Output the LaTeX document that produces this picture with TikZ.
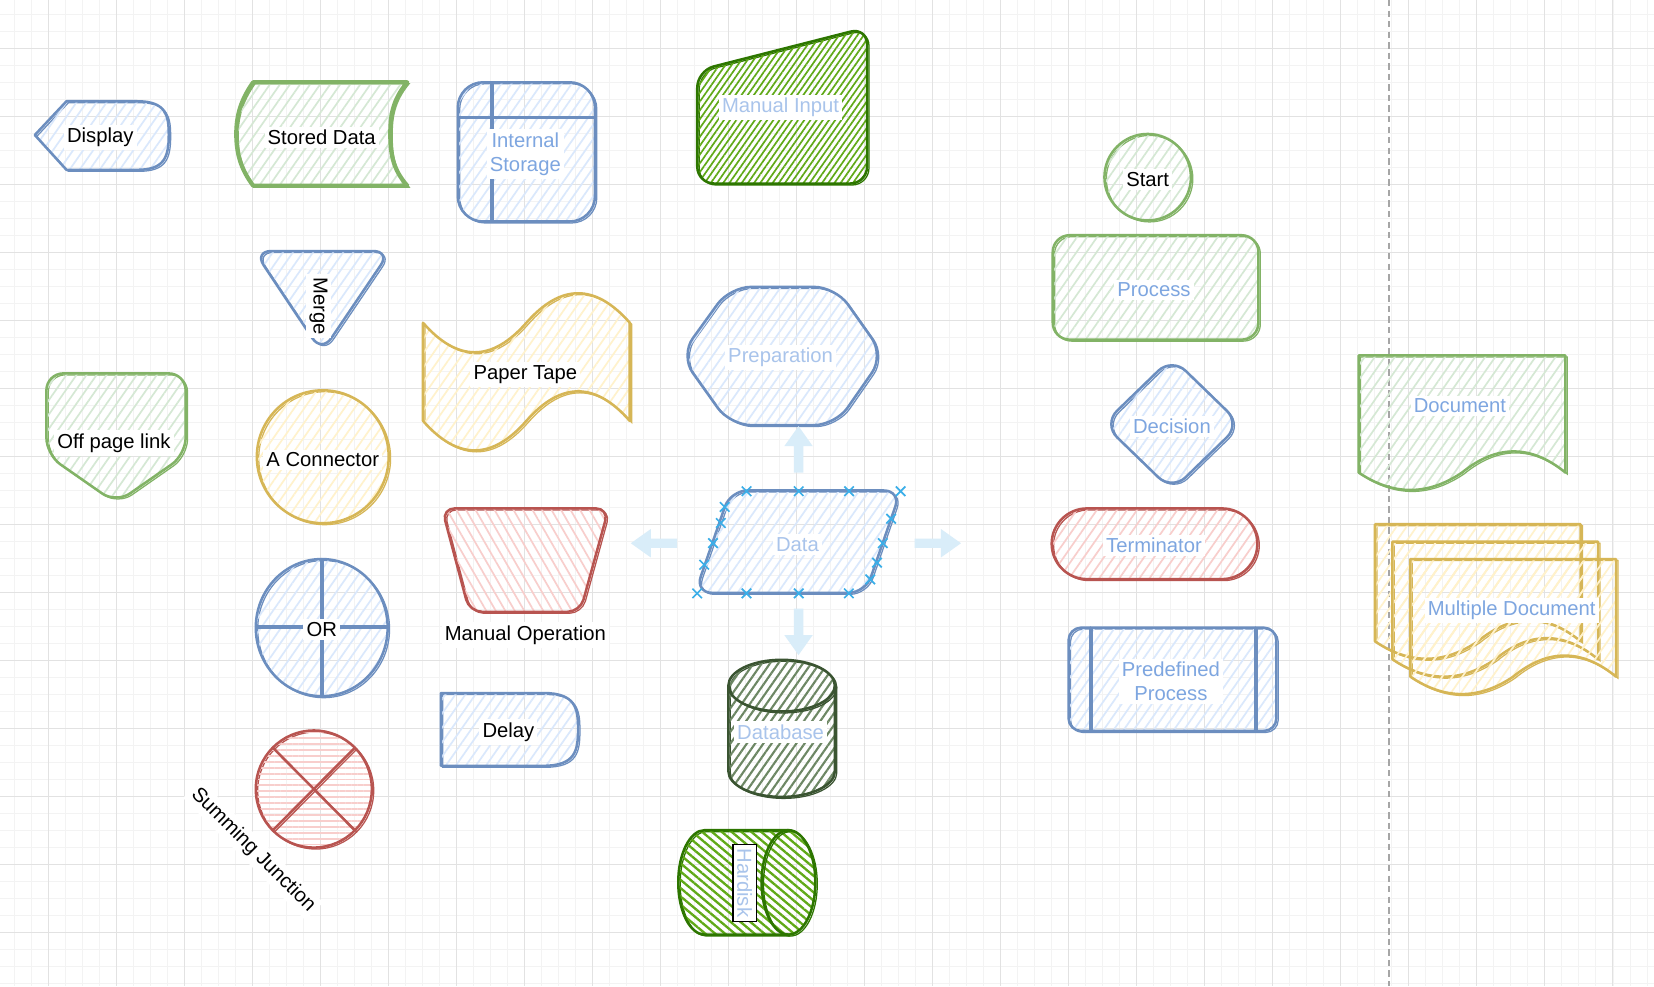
\documentclass[tikz,border=0pt]{standalone}
\usepackage{fontspec}
\setmainfont{Liberation Sans}
\usetikzlibrary{patterns.meta}

\definecolor{gridminor}{HTML}{F3F3F3}
\definecolor{gridmajor}{HTML}{E2E2E2}
\definecolor{lineblue}{HTML}{6C8EBF}
\definecolor{fillblue}{HTML}{DAE8FC}
\definecolor{linegreen}{HTML}{82B366}
\definecolor{fillgreen}{HTML}{D5E8D4}
\definecolor{lineyellow}{HTML}{D6B656}
\definecolor{fillyellow}{HTML}{FFF2CC}
\definecolor{linered}{HTML}{B85450}
\definecolor{fillred}{HTML}{F8CECC}
\definecolor{linedark}{HTML}{2D7600}
\definecolor{filldark}{HTML}{60A917}
\definecolor{linedb}{HTML}{3A5431}
\definecolor{filldb}{HTML}{6D8764}
\definecolor{textblue}{HTML}{7EA6E0}
\definecolor{textpale}{HTML}{A9C4EB}
\definecolor{hoverblue}{HTML}{D9EDF9}
\definecolor{markblue}{HTML}{3AAEE8}
\definecolor{dashgray}{HTML}{A6A6A6}

\tikzset{
   minorgrid/.style={draw=gridminor, line width=0.4pt},
   majorgrid/.style={draw=gridmajor, line width=0.5pt},
   outline/.style={draw=#1, line width=1.2pt, line join=round, line cap=round,
      preaction={draw=#1, line width=0.6pt, transform canvas={shift={(0.9pt,-0.7pt)}}}},
   hatch/.style={pattern={Lines[angle=#1, distance=3.9pt, line width=0.8pt]}},
   hatch/.default=55,
   blueshape/.style={outline=lineblue, hatch, pattern color=fillblue},
   greenshape/.style={outline=linegreen, hatch, pattern color=fillgreen},
   yellowshape/.style={outline=lineyellow, hatch, pattern color=fillyellow},
   redshape/.style={outline=linered, hatch, pattern color=fillred},
   lbl/.style={fill=white, inner sep=1.5pt, align=center, yshift=-1pt,
      font=\fontsize{9.6}{11.5}\selectfont},
   bluelbl/.style={lbl, text=textblue},
   palelbl/.style={lbl, text=textpale},
   marker/.style={draw=markblue, line width=0.8pt},
   dashline/.style={draw=dashgray, line width=0.9pt, dash pattern=on 3pt off 2pt}
}

\begin{document}
\begin{tikzpicture}[x=0.5pt,y=-0.5pt]
            \useasboundingbox (0,0) rectangle (1568,935);
            \fill [white] (0,0) rectangle (1568,935);

            % grid
            \foreach \k in {0,...,96}
               \draw [minorgrid] ({13.76+16.12*\k},0) -- ++(0,935);
            \foreach \k in {0,...,57}
               \draw [minorgrid] (0,{13.76+16.12*\k}) -- ++(1568,0);
            \foreach \k in {0,...,23}
               \draw [majorgrid] ({46+64.47*\k},0) -- ++(0,935);
            \foreach \k in {0,...,13}
               \draw [majorgrid] (0,{46+64.47*\k}) -- ++(1568,0);

            \draw [dashline] (1317,0) -- (1317,935);

            % first column
            \draw [blueshape]
               (33,128) -- (63,96) -- (130,96)
               .. controls (158,96) and (160,110) .. (160,128)
               .. controls (160,150) and (155,161) .. (130,161)
               -- (63,161) -- cycle;
            \node [lbl] (display) at (95,128) {Display};

            \draw [greenshape, rounded corners=8]
               (44,354) -- (176,354) -- (176,431) -- (110,477) -- (44,431) -- cycle;
            \node [lbl] (offpage) at (108,418) {Off page link};

            % second column
            \draw [greenshape, line width=2pt]
               (240,78) -- (386,78)
               .. controls (372,95) and (370,110) .. (370,127)
               .. controls (370,145) and (372,160) .. (386,176)
               -- (240,176)
               .. controls (228,160) and (224,145) .. (224,127)
               .. controls (224,110) and (228,95) .. (240,78) -- cycle;
            \node [lbl] (storeddata) at (305,128) {Stored Data};

            \draw [blueshape, rounded corners=8]
               (241,238) -- (370,238) -- (305,334) -- cycle;
            \node [lbl, rotate=-90] (merge) at (302,288) {Merge};

            \draw [yellowshape] (306,433) circle [x radius=62.5, y radius=63];
            \node [lbl] (connector) at (306,434) {A Connector};

            \draw [blueshape] (305,595) circle [x radius=62.5, y radius=65];
            \draw [outline=lineblue] (243,594) -- (368,594);
            \draw [outline=lineblue] (305,530) -- (305,660);
            \node [lbl] (orlabel) at (305,595) {OR};

            \draw [outline=linered, pattern={Lines[angle=0, distance=2.8pt, line width=0.9pt]},
               pattern color=fillred] (297.5,748) circle [x radius=55, y radius=55.5];
            \draw [outline=linered] (258.6,708.8) -- (336.4,787.2);
            \draw [outline=linered] (336.4,708.8) -- (258.6,787.2);
            \node [lbl, rotate=-45] (summing) at (240,804) {Summing Junction};

            % third column
            \draw [blueshape, rounded corners=12] (434,78) rectangle (564,210);
            \draw [outline=lineblue] (434,111) -- (564,111);
            \draw [outline=lineblue] (466,78) -- (466,210);
            \node [bluelbl] (internal) at (498,144) {Internal\\Storage};

            \draw [yellowshape]
               (401,306) .. controls (433.7,343.3) and (466.3,343.3) .. (499,306)
               .. controls (531.7,268.7) and (564.3,268.7) .. (597,306)
               -- (597,399)
               .. controls (564.3,361.7) and (531.7,361.7) .. (499,399)
               .. controls (466.3,436.3) and (433.7,436.3) .. (401,399) -- cycle;
            \node [lbl] (papertape) at (498,353) {Paper Tape};

            \draw [redshape, hatch=-60, rounded corners=6]
               (419,482) -- (577,482) -- (550,580) -- (445,580) -- cycle;
            \node [lbl] (manualop) at (498,600) {Manual Operation};

            \draw [blueshape]
               (418,657) -- (515,657)
               .. controls (546,657) and (548,672) .. (548,691)
               .. controls (548,711) and (546,726) .. (515,726)
               -- (418,726) -- cycle;
            \node [lbl] (delay) at (482,692) {Delay};

            % fourth column
            \draw [outline=linedark, pattern={Lines[angle=55, distance=2.4pt, line width=0.8pt]},
               pattern color=filldark, rounded corners=8]
               (661,174) -- (661,67) -- (822,26) -- (822,174) -- cycle;
            \node [palelbl] (manualinput) at (740,100) {Manual Input};

            \draw [blueshape, rounded corners=10]
               (692,272) -- (792,272) -- (838,337) -- (792,403)
               -- (692,403) -- (645,337) -- cycle;
            \node [palelbl] (preparation) at (740,337) {Preparation};

            \foreach \ang/\ax/\ay in {90/757/426, 180/620/515, 0/889/515, -90/757/599}
               \fill [hoverblue, shift={(\ax,\ay)}, rotate=\ang]
                  (-22,-4.5) -- (3,-4.5) -- (3,-13.5) -- (22,0)
                  -- (3,13.5) -- (3,4.5) -- (-22,4.5) -- cycle;

            \draw [blueshape, rounded corners=8]
               (692.5,465) -- (854,465) -- (820.5,562) -- (659,562) -- cycle;
            \node [palelbl] (data) at (756,514) {Data};
            \foreach \mx/\my in {707.7/465.7, 757.2/465.7, 804.9/465.7, 853.8/465.7,
                  660.9/562.5, 707.7/562.5, 757.2/562.5, 804.7/562.5,
                  687/480.6, 683.3/495.8, 675.9/514.9, 667.6/535.4,
                  844.8/491.8, 836.9/514.9, 831.4/533.4, 825/549.3}
               \draw [marker] (\mx,\my) ++(-4.5,-4.5) -- ++(9,9) ++(0,-9) -- ++(-9,9);

            \draw [outline=linedb, pattern={Lines[angle=55, distance=3.2pt, line width=1pt]},
               pattern color=filldb]
               (690.5,650) -- (690.5,731)
               arc [start angle=180, end angle=0, x radius=50.5, y radius=24.5]
               -- (791.5,650)
               arc [start angle=0, end angle=-180, x radius=50.5, y radius=24.5] -- cycle;
            \draw [outline=linedb]
               (690.5,650) arc [start angle=180, end angle=0, x radius=50.5, y radius=24.5];
            \node [palelbl] (database) at (740,692) {Database};

            \draw [outline=linedark, pattern={Lines[angle=-40, distance=3pt, line width=1.1pt]},
               pattern color=filldark]
               (668,787) -- (747.5,787)
               arc [start angle=-90, end angle=90, x radius=25.5, y radius=49.5]
               -- (668,886)
               arc [start angle=90, end angle=270, x radius=25, y radius=49.5] -- cycle;
            \draw [outline=linedark]
               (747.5,787) arc [start angle=270, end angle=90, x radius=25.5, y radius=49.5];
            \node [palelbl, draw=black, line width=0.7pt, inner sep=2pt, rotate=-90]
               (hardisk) at (706,835) {Hardisk};

            % fifth column
            \draw [greenshape] (1088,168) circle [radius=41];
            \node [lbl] (start) at (1088,168) {Start};

            \draw [greenshape, rounded corners=8] (998,223) rectangle (1193,322);
            \node [bluelbl] (process) at (1094,273) {Process};

            \draw [blueshape, rounded corners=9]
               (1111,339) -- (1176,402) -- (1111,465) -- (1046,402) -- cycle;
            \node [bluelbl] (decision) at (1111,402) {Decision};

            \draw [redshape]
               (1030.5,482) -- (1158.5,482)
               arc [start angle=-90, end angle=90, radius=33.5]
               -- (1030.5,549)
               arc [start angle=90, end angle=270, radius=33.5] -- cycle;
            \node [bluelbl] (terminator) at (1094,515) {Terminator};

            \draw [blueshape, rounded corners=6] (1013,595) rectangle (1210,693);
            \draw [outline=lineblue] (1034,595) -- (1034,693);
            \draw [outline=lineblue] (1190,595) -- (1190,693);
            \node [bluelbl] (predefined) at (1110,644) {Predefined\\Process};

            % documents
            \draw [greenshape]
               (1288,337) -- (1484,337) -- (1484,448)
               .. controls (1451.3,421.3) and (1418.7,421.3) .. (1386,448)
               .. controls (1353.3,470) and (1320.7,470) .. (1288,448) -- cycle;
            \node [bluelbl] (document) at (1384,383) {Document};

            \draw [yellowshape]
               (1303.5,497) -- (1498.5,497) -- (1498.5,608)
               .. controls (1466,581.3) and (1433.5,581.3) .. (1401,608)
               .. controls (1368.5,630) and (1336,630) .. (1303.5,608) -- cycle;
            \draw [yellowshape]
               (1320,513.5) -- (1515,513.5) -- (1515,625)
               .. controls (1482.5,598.3) and (1450,598.3) .. (1417.5,625)
               .. controls (1385,647) and (1352.5,647) .. (1320,625) -- cycle;
            \draw [yellowshape]
               (1337,530) -- (1532,530) -- (1532,641.5)
               .. controls (1499.5,614.8) and (1467,614.8) .. (1434.5,641.5)
               .. controls (1402,663.5) and (1369.5,663.5) .. (1337,641.5) -- cycle;
            \node [bluelbl] (multidoc) at (1433,577) {Multiple Document};
         \end{tikzpicture}
\end{document}
